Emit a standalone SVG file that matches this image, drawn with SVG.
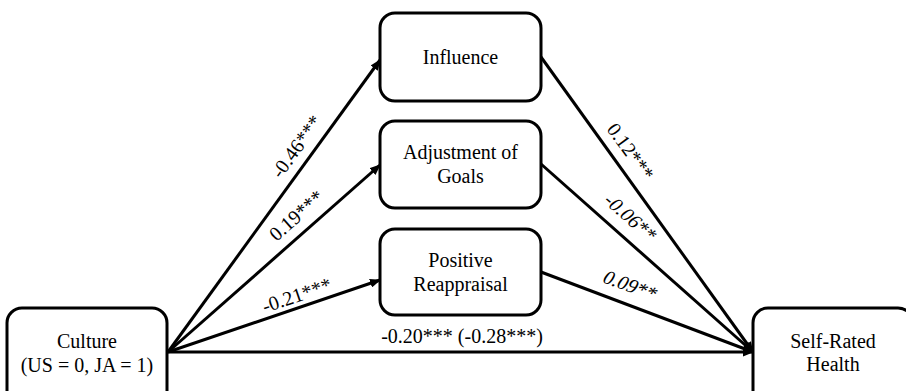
<svg xmlns="http://www.w3.org/2000/svg" width="906" height="391" viewBox="0 0 906 391">
<style>
.box{fill:#fff;stroke:#000;stroke-width:3}
.lbl{font-family:'Liberation Serif',serif;font-size:20px;fill:#000;text-anchor:middle}
.edge{stroke:#000;stroke-width:3;fill:none;marker-end:url(#ah)}
</style>
<defs>
<marker id="ah" markerUnits="userSpaceOnUse" markerWidth="11" markerHeight="9" refX="10" refY="4.5" orient="auto">
<path d="M0,0 L11,4.5 L0,9 z" fill="#000"/>
</marker>
</defs>
<rect width="906" height="391" fill="#fff"/>
<g id="connectors">
<line class="edge" x1="168" y1="352" x2="380" y2="60"/>
<line class="edge" x1="168" y1="352" x2="380" y2="165"/>
<line class="edge" x1="168" y1="352" x2="380" y2="280"/>
<line class="edge" x1="168" y1="352" x2="753" y2="352"/>
<line class="edge" x1="541" y1="57" x2="753" y2="352"/>
<line class="edge" x1="541" y1="164" x2="753" y2="352"/>
<line class="edge" x1="541" y1="272" x2="753" y2="352"/>
<g class="lbl" font-family="Liberation Serif, serif">
<text transform="translate(297,147) rotate(-54.2)" y="6">-0.46***</text>
<text transform="translate(297,216) rotate(-41.4)" y="6">0.19***</text>
<text transform="translate(297,296) rotate(-18.8)" y="6">-0.21***</text>
<text transform="translate(630,152) rotate(54)" y="6">0.12***</text>
<text transform="translate(630,218) rotate(41.3) skewX(-12)" y="6">-0.06**</text>
<text transform="translate(630,286) rotate(20.3) skewX(-12)" y="6">0.09**</text>
<text x="462" y="343">-0.20*** (-0.28***)</text>
</g>
</g>
<g id="culture">
<rect class="box" x="7" y="308" width="160" height="100" rx="15"/>
<text class="lbl" x="87" y="348">Culture</text>
<text class="lbl" x="87" y="372">(US = 0, JA = 1)</text>
</g>
<g id="influence">
<rect class="box" x="380" y="13" width="161" height="88" rx="15"/>
<text class="lbl" x="460.5" y="64">Influence</text>
</g>
<g id="adjustment">
<rect class="box" x="380" y="121" width="161" height="87" rx="15"/>
<text class="lbl" x="460.5" y="159">Adjustment of</text>
<text class="lbl" x="460.5" y="183">Goals</text>
</g>
<g id="positive">
<rect class="box" x="380" y="229" width="161" height="86" rx="15"/>
<text class="lbl" x="460.5" y="267">Positive</text>
<text class="lbl" x="460.5" y="291">Reappraisal</text>
</g>
<g id="health">
<rect class="box" x="753" y="308" width="160" height="100" rx="15"/>
<text class="lbl" x="833" y="348">Self-Rated</text>
<text class="lbl" x="833" y="371">Health</text>
</g>
</svg>
